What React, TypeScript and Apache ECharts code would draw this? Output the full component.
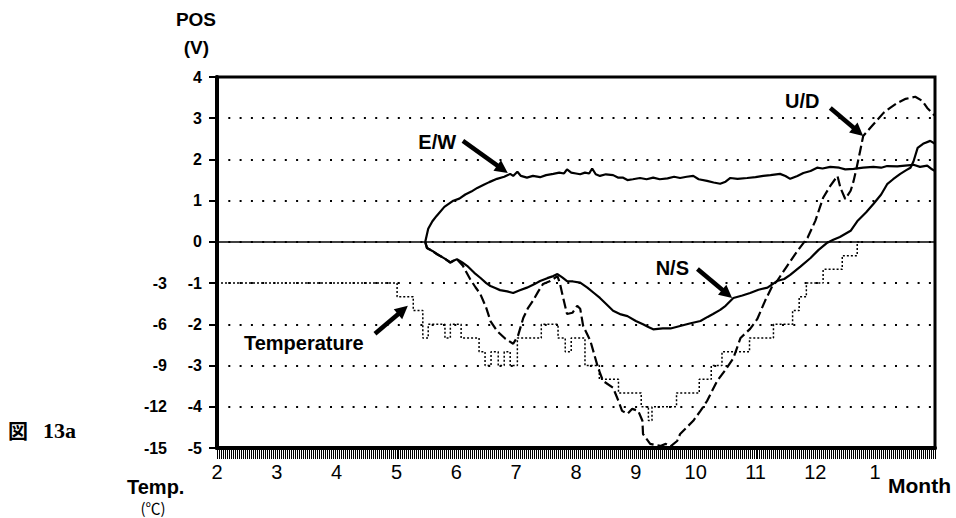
import React, { useEffect, useRef } from 'react';
import * as echarts from 'echarts';

// Month axis: 2 (Feb) .. 14 (Feb of the following year)
const monthMin = 2;
const monthMax = 14;
const daysPerMonth = 30;
// one comb tick per day along the month axis
const dayTicks: number[] = Array.from(
  { length: (monthMax - monthMin) * daysPerMonth + 1 },
  (_, i) => monthMin + i / daysPerMonth
);

// POS axis (V) and the matching temperature axis (°C = 3 × V)
const posMin = -5;
const posMax = 4;
const tempMin = -15;
const tempMax = 12;
const tempTickLabels = [-3, -6, -9, -12, -15];

// [month, volts]
const ewData: number[][] = [
  [5.48, 0], [5.53, 0.32], [5.6, 0.5], [5.67, 0.63], [5.8, 0.85], [5.95, 1.0], [6.05, 1.05],
  [6.15, 1.15], [6.25, 1.22], [6.35, 1.31], [6.45, 1.38], [6.55, 1.45], [6.68, 1.53], [6.8, 1.58],
  [6.9, 1.65], [6.95, 1.6], [7.02, 1.7], [7.08, 1.6], [7.18, 1.56], [7.28, 1.6], [7.4, 1.57],
  [7.5, 1.62], [7.62, 1.65], [7.72, 1.68], [7.8, 1.66], [7.85, 1.76], [7.92, 1.68], [8.0, 1.66],
  [8.07, 1.64], [8.15, 1.68], [8.22, 1.66], [8.27, 1.78], [8.33, 1.64], [8.4, 1.6], [8.5, 1.64],
  [8.62, 1.62], [8.7, 1.56], [8.78, 1.56], [8.86, 1.5], [8.95, 1.52], [9.07, 1.55], [9.18, 1.52],
  [9.29, 1.56], [9.4, 1.52], [9.53, 1.54], [9.64, 1.58], [9.74, 1.55], [9.85, 1.58], [9.96, 1.6],
  [10.05, 1.52], [10.19, 1.48], [10.3, 1.44], [10.41, 1.41], [10.5, 1.46], [10.58, 1.55],
  [10.7, 1.53], [10.86, 1.55], [11.0, 1.57], [11.13, 1.6], [11.25, 1.62], [11.41, 1.65],
  [11.5, 1.6], [11.58, 1.53], [11.7, 1.6], [11.8, 1.67], [11.92, 1.72], [12.03, 1.8],
  [12.12, 1.78], [12.25, 1.82], [12.4, 1.8], [12.5, 1.76], [12.64, 1.77], [12.8, 1.8],
  [12.97, 1.82], [13.1, 1.8], [13.2, 1.84], [13.37, 1.83], [13.5, 1.85], [13.64, 1.87],
  [13.75, 1.82], [13.87, 1.85], [13.95, 1.76], [14.0, 1.72],
];

const nsData: number[][] = [
  [5.48, 0], [5.51, -0.15], [5.6, -0.22], [5.68, -0.3], [5.8, -0.4], [5.9, -0.5], [5.96, -0.45],
  [6.01, -0.42], [6.1, -0.5], [6.18, -0.58], [6.3, -0.75], [6.4, -0.87], [6.5, -1.0], [6.57, -1.07],
  [6.65, -1.12], [6.73, -1.17], [6.85, -1.2], [6.95, -1.24], [7.05, -1.18], [7.18, -1.11],
  [7.3, -1.03], [7.4, -0.95], [7.52, -0.88], [7.62, -0.83], [7.69, -0.78], [7.77, -0.86],
  [7.85, -0.95], [7.95, -0.96], [8.07, -0.99], [8.19, -1.11], [8.3, -1.24], [8.4, -1.36],
  [8.5, -1.5], [8.62, -1.67], [8.75, -1.76], [8.86, -1.8], [9.0, -1.92], [9.12, -2.0],
  [9.2, -2.06], [9.29, -2.12], [9.45, -2.1], [9.58, -2.1], [9.74, -2.04], [9.9, -1.98],
  [10.08, -1.92], [10.2, -1.82], [10.29, -1.75], [10.41, -1.65], [10.5, -1.55], [10.63, -1.36],
  [10.78, -1.3], [10.91, -1.24], [11.05, -1.16], [11.2, -1.11], [11.36, -0.95], [11.48, -0.9],
  [11.58, -0.8], [11.75, -0.6], [11.92, -0.39], [12.05, -0.2], [12.2, -0.02], [12.3, 0.05],
  [12.41, 0.12], [12.59, 0.27], [12.7, 0.5], [12.85, 0.72], [12.97, 0.92], [13.1, 1.15],
  [13.2, 1.4], [13.3, 1.52], [13.42, 1.65], [13.52, 1.74], [13.59, 1.8], [13.64, 1.95],
  [13.71, 2.28], [13.8, 2.38], [13.92, 2.45], [14.0, 2.38],
];

const udData: number[][] = [
  [5.48, 0], [5.51, -0.15], [5.6, -0.22], [5.68, -0.3], [5.8, -0.4], [5.9, -0.5], [5.96, -0.45],
  [6.01, -0.42], [6.11, -0.58], [6.23, -0.9], [6.32, -1.1], [6.4, -1.26], [6.5, -1.6],
  [6.57, -1.92], [6.68, -2.16], [6.82, -2.35], [6.95, -2.47], [7.03, -2.28], [7.12, -1.84],
  [7.2, -1.6], [7.28, -1.43], [7.37, -1.2], [7.45, -1.02], [7.57, -0.95], [7.69, -0.83],
  [7.73, -1.0], [7.77, -1.26], [7.85, -1.75], [7.94, -1.72], [8.02, -1.55], [8.07, -1.62],
  [8.12, -2.04], [8.24, -2.4], [8.37, -3.06], [8.45, -3.37], [8.62, -3.54], [8.71, -3.86],
  [8.77, -4.1], [8.86, -4.17], [8.94, -4.05], [9.04, -4.1], [9.11, -4.34], [9.12, -4.66],
  [9.24, -4.9], [9.41, -4.95], [9.5, -4.9], [9.58, -4.96], [9.69, -4.83], [9.74, -4.66],
  [9.85, -4.5], [9.96, -4.34], [10.08, -4.1], [10.19, -3.86], [10.36, -3.37], [10.5, -3.1],
  [10.63, -2.82], [10.75, -2.33], [10.91, -2.11], [11.03, -1.87], [11.16, -1.43], [11.28, -1.07],
  [11.36, -0.95], [11.53, -0.58], [11.7, -0.22], [11.87, 0.1], [12.0, 0.51], [12.13, 1.07],
  [12.25, 1.36], [12.37, 1.6], [12.42, 1.31], [12.5, 1.04], [12.59, 1.24], [12.64, 1.48],
  [12.69, 1.8], [12.75, 2.21], [12.8, 2.57], [12.92, 2.77], [13.03, 2.95], [13.14, 3.13],
  [13.25, 3.25], [13.37, 3.37], [13.51, 3.47], [13.67, 3.52], [13.79, 3.42], [13.87, 3.25],
  [13.97, 3.1], [14.0, 3.06],
];

// Daily mean temperature in whole °C: [month where the level starts, °C]
const tempData: number[][] = [
  [2.0, -3], [5.01, -4], [5.28, -5], [5.44, -7], [5.53, -6], [5.81, -7], [5.9, -6], [6.08, -7],
  [6.38, -8], [6.48, -9], [6.58, -8], [6.7, -9], [6.8, -8], [6.9, -9], [7.02, -7], [7.42, -6],
  [7.7, -7], [7.82, -8], [7.92, -7], [8.15, -9], [8.39, -10], [8.71, -11], [9.09, -12],
  [9.21, -13], [9.27, -12], [9.68, -11], [10.06, -10], [10.26, -9], [10.44, -8], [10.9, -7],
  [11.3, -6], [11.62, -5], [11.73, -4], [11.85, -3], [12.13, -2], [12.45, -1], [12.7, 0],
  [12.75, 0],
];

// Annotation anchors in data units: [label month, label volts, tail month, tail volts, head month, head volts]
const annotations: { text: string; at: number[] }[] = [
  { text: 'E/W', at: [5.68, 2.42, 6.11, 2.45, 6.86, 1.67] },
  { text: 'U/D', at: [11.78, 3.42, 12.25, 3.25, 12.8, 2.57] },
  { text: 'N/S', at: [9.61, -0.63, 10.03, -0.66, 10.61, -1.36] },
  { text: 'Temperature', at: [3.45, -2.45, 4.64, -2.23, 5.19, -1.55] },
];

const NARROW = '"Liberation Sans Narrow", "Liberation Sans", Arial, sans-serif';
const SANS = '"Liberation Sans", Arial, sans-serif';
const CJK = '"Noto Sans CJK JP", "Noto Sans CJK SC", sans-serif';
const SERIF = '"Liberation Serif", "DejaVu Serif", serif';

function arrowShapes(t: number[], h: number[]) {
  const dx = h[0] - t[0];
  const dy = h[1] - t[1];
  const len = Math.hypot(dx, dy) || 1;
  const ux = dx / len;
  const uy = dy / len;
  const headLen = 13;
  const headHalf = 6.5;
  const bx = h[0] - ux * headLen;
  const by = h[1] - uy * headLen;
  return [
    {
      type: 'line',
      silent: true,
      shape: { x1: t[0], y1: t[1], x2: bx + ux * 2, y2: by + uy * 2 },
      style: { stroke: '#000', lineWidth: 4.5 },
    },
    {
      type: 'polygon',
      silent: true,
      shape: {
        points: [
          [h[0], h[1]],
          [bx - uy * headHalf, by + ux * headHalf],
          [bx + uy * headHalf, by - ux * headHalf],
        ],
      },
      style: { fill: '#000' },
    },
  ];
}

function textEl(text: string, x: number, y: number, opts: any) {
  return {
    type: 'text',
    silent: true,
    x,
    y,
    style: {
      text,
      fill: '#000',
      align: opts.align || 'left',
      verticalAlign: 'middle',
      fontSize: opts.fontSize,
      fontFamily: opts.fontFamily || SANS,
      fontWeight: opts.fontWeight || 'bold',
    },
  };
}

export default function App() {
  const ref = useRef<HTMLDivElement>(null);

  useEffect(() => {
    if (!ref.current) return;
    const chart = echarts.init(ref.current, null, { renderer: 'svg' });

    const option: any = {
      animation: false,
      backgroundColor: '#fff',
      grid: {
        left: 217,
        right: 21,
        top: 77,
        bottom: 70,
        show: true,
        borderColor: '#000',
        borderWidth: 3,
        containLabel: false,
      },
      xAxis: {
        type: 'value',
        min: monthMin,
        max: monthMax,
        interval: 1,
        axisLine: { show: true, onZero: false, lineStyle: { color: '#000', width: 4 } },
        axisTick: { show: false },
        splitLine: { show: false },
        axisLabel: {
          margin: 14,
          color: '#000',
          fontSize: 20,
          fontFamily: NARROW,
          formatter: (v: number) => (v >= monthMax ? '' : String(v > 12 ? v - 12 : v)),
        },
        z: 3,
      },
      yAxis: [
        {
          type: 'value',
          min: posMin,
          max: posMax,
          interval: 1,
          axisLine: { show: true, onZero: false, lineStyle: { color: '#000', width: 4 } },
          axisTick: { show: true, length: 8, lineStyle: { color: '#000', width: 2 } },
          axisLabel: {
            margin: 15,
            color: '#000',
            fontSize: 16,
            fontWeight: 'bold',
            fontFamily: NARROW,
          },
          splitLine: {
            show: true,
            lineStyle: { color: '#000', width: 2, type: [2, 9.3] },
          },
        },
        {
          type: 'value',
          min: tempMin,
          max: tempMax,
          interval: 3,
          position: 'left',
          axisLine: { show: false },
          axisTick: { show: false },
          splitLine: { show: false },
          axisLabel: {
            margin: 50,
            color: '#000',
            fontSize: 16,
            fontWeight: 'bold',
            fontFamily: NARROW,
            formatter: (v: number) => (tempTickLabels.indexOf(v) >= 0 ? String(v) : ''),
          },
        },
      ],
      series: [
        {
          // daily tick comb hanging below the month axis
          name: 'days',
          type: 'custom',
          silent: true,
          clip: false,
          data: dayTicks.map((d) => [d, posMin]),
          encode: { x: 0, y: 1 },
          renderItem: (_params: any, api: any) => {
            const p = api.coord([api.value(0), api.value(1)]);
            const x = Math.round(p[0]) + 0.5;
            return {
              type: 'line',
              shape: { x1: x, y1: p[1] + 1, x2: x, y2: p[1] + 11 },
              style: { stroke: '#000', lineWidth: 1 },
            };
          },
          z: 1,
        },
        {
          name: 'Temperature',
          type: 'line',
          yAxisIndex: 1,
          step: 'end',
          data: tempData,
          symbol: 'none',
          lineStyle: { color: '#000', width: 1.5, type: [2, 2] },
          z: 2,
        },
        {
          name: 'E/W',
          type: 'line',
          data: ewData,
          symbol: 'none',
          lineStyle: { color: '#000', width: 2.2 },
          markLine: {
            silent: true,
            symbol: 'none',
            label: { show: false },
            lineStyle: { color: '#000', width: 1.6, type: 'solid' },
            data: [{ yAxis: 0 }],
          },
          z: 3,
        },
        {
          name: 'N/S',
          type: 'line',
          data: nsData,
          symbol: 'none',
          lineStyle: { color: '#000', width: 2.2 },
          z: 3,
        },
        {
          name: 'U/D',
          type: 'line',
          data: udData,
          symbol: 'none',
          lineStyle: { color: '#000', width: 2.2, type: [10, 4] },
          z: 3,
        },
      ],
    };

    chart.setOption(option);

    const px = (m: number, v: number) =>
      chart.convertToPixel({ xAxisIndex: 0, yAxisIndex: 0 }, [m, v]) as number[];
    const graphics: any[] = [];
    annotations.forEach((a) => {
      const lp = px(a.at[0], a.at[1]);
      graphics.push(textEl(a.text, lp[0], lp[1], { fontSize: 20, align: 'center' }));
      graphics.push(...arrowShapes(px(a.at[2], a.at[3]), px(a.at[4], a.at[5])));
    });

    graphics.push(textEl('POS', 216, 19, { fontSize: 19, align: 'right' }));
    graphics.push(textEl('(V)', 209, 47, { fontSize: 19, align: 'right' }));
    graphics.push(textEl('Temp.', 127, 487, { fontSize: 20 }));
    graphics.push(textEl('(℃)', 153, 507, { fontSize: 15, align: 'center', fontFamily: CJK, fontWeight: 'normal' }));
    graphics.push(textEl('Month', 888, 485, { fontSize: 21 }));
    graphics.push(textEl('図', 8, 430, { fontSize: 20, fontFamily: CJK, fontWeight: 'bold' }));
    graphics.push(textEl('13a', 43, 430, { fontSize: 22, fontFamily: SERIF, fontWeight: 'bold' }));

    chart.setOption({ graphic: graphics });

    return () => chart.dispose();
  }, []);

  return (
    <div
      ref={ref}
      style={{ position: 'fixed', left: 0, top: 0, width: 956, height: 518, background: '#fff' }}
    />
  );
}
